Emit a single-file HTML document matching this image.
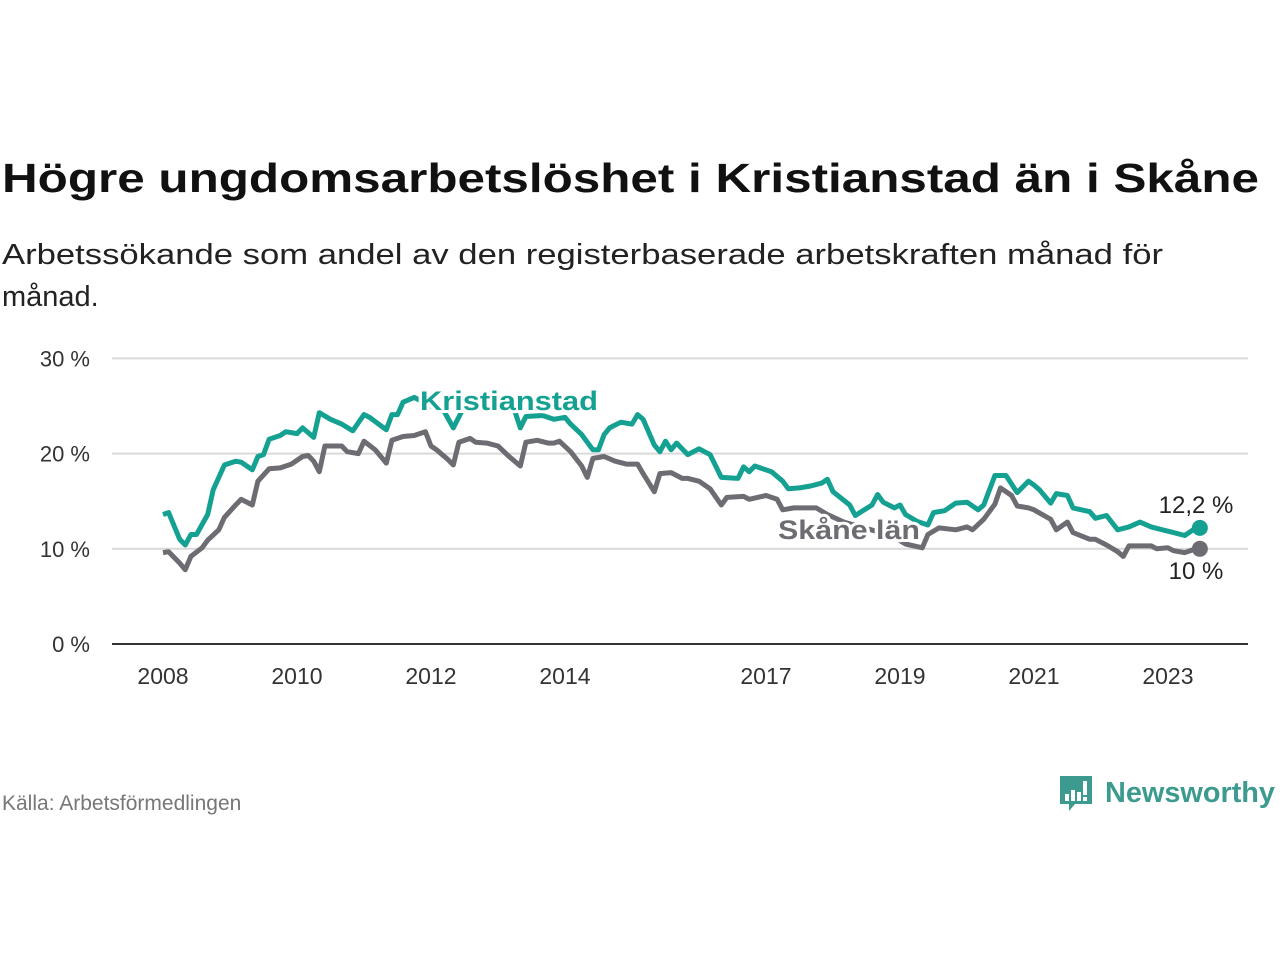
<!DOCTYPE html>
<html><head><meta charset="utf-8"><style>
html,body{margin:0;padding:0;background:#fff;width:1280px;height:960px;overflow:hidden}
svg{display:block;font-family:"Liberation Sans",sans-serif}
</style></head><body>
<svg id="chart" width="1280" height="960">
<text x="2" y="192" font-size="41" font-weight="bold" fill="#111" textLength="1257" lengthAdjust="spacingAndGlyphs">Högre ungdomsarbetslöshet i Kristianstad än i Skåne</text>
<text x="2" y="264" font-size="29" fill="#222" textLength="1161" lengthAdjust="spacingAndGlyphs">Arbetssökande som andel av den registerbaserade arbetskraften månad för</text>
<text x="2" y="306" font-size="29" fill="#222">månad.</text>
<g id="grid"></g><g id="lines"></g><g id="labels"></g>
<text x="2" y="810" font-size="21" fill="#777">Källa: Arbetsförmedlingen</text>
<g>
<path d="M1060 776 h32 v28 h-17 l-6 7 v-7 h-9 z" fill="#3c9a8f"/>
<rect x="1065" y="794" width="4" height="7" fill="#fff"/><rect x="1071" y="790" width="4" height="11" fill="#fff"/><rect x="1077" y="792" width="4" height="9" fill="#fff"/><rect x="1083" y="781" width="4" height="14" fill="#fff"/><rect x="1083" y="797" width="4" height="4" fill="#fff"/>
<text x="1105" y="802" font-size="29" font-weight="bold" fill="#3c9a8f" textLength="170" lengthAdjust="spacingAndGlyphs">Newsworthy</text>
</g>
</svg>
<script>
const kMonths=[0,1,3,4,5,6,8,9,11,13,14,16,17,18,19,21,22,24,25,27,28,30,32,34,36,37,40,41,42,43,45,48,50,52,54,59,63,64,65,68,70,72,73,75,77,78,79,80,82,84,85,86,88,89,90,91,92,94,96,98,100,103,104,105,106,109,111,112,114,116,118,119,120,123,124,127,128,129,131,132,133,135,137,138,140,142,144,146,147,149,151,153,155,156,157,159,160,162,163,166,167,169,171,173,175,177,179,181,183,185];
const kValues=[13.6,13.8,11.0,10.4,11.5,11.5,13.6,16.2,18.8,19.2,19.1,18.3,19.7,19.9,21.5,21.9,22.3,22.1,22.7,21.7,24.3,23.6,23.1,22.4,24.1,23.8,22.5,24.1,24.1,25.4,25.9,25.0,24.8,22.7,25.0,25.0,24.5,22.7,23.9,24.0,23.6,23.8,23.1,22.0,20.4,20.4,22.0,22.7,23.3,23.1,24.1,23.6,20.9,20.2,21.3,20.4,21.1,19.9,20.5,19.9,17.5,17.4,18.6,18.1,18.7,18.1,17.1,16.3,16.4,16.6,16.9,17.3,16.0,14.6,13.5,14.6,15.7,14.9,14.3,14.6,13.6,12.9,12.5,13.8,14.0,14.8,14.9,14.1,14.6,17.7,17.7,15.9,17.1,16.7,16.2,14.8,15.8,15.6,14.3,13.9,13.2,13.5,12.0,12.3,12.8,12.3,12.0,11.7,11.4,12.2];
const sMonths=[0,1,3,4,5,7,8,10,11,13,14,16,17,19,21,23,25,26,27,28,29,32,33,35,36,38,40,41,43,45,47,48,49,51,52,53,55,56,58,60,62,64,65,67,69,70,71,73,75,76,77,79,81,83,85,86,88,89,91,93,94,96,98,100,101,104,105,108,110,111,113,117,119,122,125,128,131,133,136,137,139,142,144,145,147,149,150,152,153,155,156,159,160,162,163,166,167,169,171,172,173,177,178,180,181,183,185];
const sValues=[9.6,9.7,8.5,7.8,9.2,10.1,10.9,12.0,13.3,14.6,15.2,14.6,17.1,18.4,18.5,18.9,19.7,19.8,19.2,18.1,20.8,20.8,20.2,20.0,21.3,20.4,19.0,21.4,21.8,21.9,22.3,20.8,20.4,19.4,18.8,21.2,21.6,21.2,21.1,20.8,19.7,18.7,21.2,21.4,21.1,21.1,21.3,20.2,18.7,17.5,19.5,19.7,19.2,18.9,18.9,17.9,16.0,17.9,18.0,17.4,17.4,17.1,16.3,14.6,15.4,15.5,15.2,15.6,15.2,14.1,14.3,14.3,13.6,12.8,12.3,11.8,11.2,10.5,10.1,11.5,12.2,12.0,12.3,12.0,13.1,14.7,16.4,15.6,14.5,14.3,14.1,13.1,12.0,12.8,11.7,11.0,11.0,10.4,9.7,9.2,10.3,10.3,10.0,10.1,9.8,9.6,10.0];
const yTicks=[0,10,20,30];
const yTickLabels=["0 %","10 %","20 %","30 %"];
const xTickYears=[2008,2010,2012,2014,2017,2019,2021,2023];
const NS="http://www.w3.org/2000/svg";
const x=m=>163+m*5.583;
const y=v=>644-v*9.52;
const yr=Y=>x((Y-2008)*12);
function mk(tag,attrs,parent){const e=document.createElementNS(NS,tag);for(const k in attrs)e.setAttribute(k,attrs[k]);parent.appendChild(e);return e;}
const grid=document.getElementById('grid'),lines=document.getElementById('lines'),labels=document.getElementById('labels');
yTicks.forEach((t,i)=>{
  if(t>0){const g=mk('line',{x1:112,x2:1248,y1:y(t),y2:y(t),stroke:'#d9d9d9','stroke-width':2},grid);
  
  }
  const tx=mk('text',{x:90,y:y(t)+8,'font-size':22,fill:'#333','text-anchor':'end'},grid);tx.textContent=yTickLabels[i];
  
  
});
const ax=mk('line',{x1:112,x2:1248,y1:644,y2:644,stroke:'#333','stroke-width':2},grid);


xTickYears.forEach(Y=>{
  const t=mk('text',{x:yr(Y),y:684,'font-size':23,fill:'#333','text-anchor':'middle'},grid);t.textContent=Y;
  
  
});
function pts(ms,vs){return ms.map((m,i)=>x(m).toFixed(1)+','+y(vs[i]).toFixed(1)).join(' ');}
const sl=mk('polyline',{points:pts(sMonths,sValues),fill:'none',stroke:'#6d6c72','stroke-width':5,'stroke-linejoin':'round'},lines);


const kl=mk('polyline',{points:pts(kMonths,kValues),fill:'none',stroke:'#14a192','stroke-width':5,'stroke-linejoin':'round'},lines);


const kLast=kValues.length-1,sLast=sValues.length-1;
const kd=mk('circle',{cx:x(kMonths[kLast])+4,cy:y(kValues[kLast]),r:8,fill:'#14a192'},lines);


const sd=mk('circle',{cx:x(sMonths[sLast])+4,cy:y(sValues[sLast]),r:8,fill:'#6d6c72'},lines);


const kv=mk('text',{x:1196,y:y(kValues[kLast])-15,'font-size':24,fill:'#222','text-anchor':'middle'},labels);kv.textContent=kValues[kLast].toString().replace('.',',')+' %';


const sv=mk('text',{x:1196,y:y(sValues[sLast])+30,'font-size':24,fill:'#222','text-anchor':'middle'},labels);sv.textContent=sValues[sLast].toString().replace('.',',')+' %';


const kn=mk('text',{x:420,y:410,'font-size':27,'font-weight':'bold',fill:'#14a192',stroke:'#fff','stroke-width':6,'paint-order':'stroke',textLength:178,lengthAdjust:'spacingAndGlyphs'},labels);kn.textContent='Kristianstad';


const sn=mk('text',{x:778,y:539,'font-size':27,'font-weight':'bold',fill:'#6d6c72',stroke:'#fff','stroke-width':6,'paint-order':'stroke',textLength:142,lengthAdjust:'spacingAndGlyphs'},labels);sn.textContent='Skåne län';


</script>
</body></html>
